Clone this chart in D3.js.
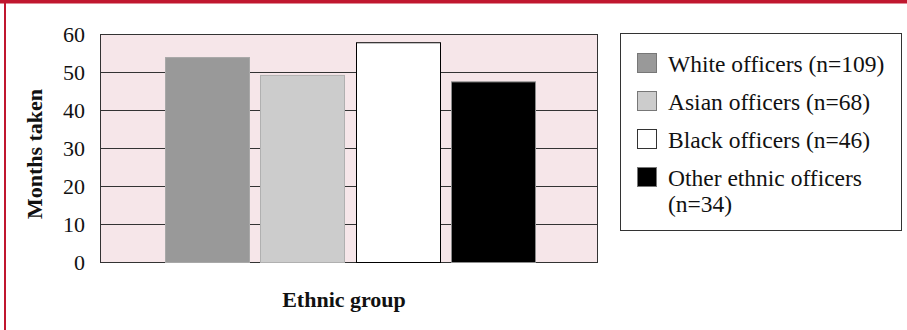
<!DOCTYPE html>
<html>
<head>
<meta charset="utf-8">
<script src="https://cdn.jsdelivr.net/npm/d3@7"></script>
<style>
  html, body { margin: 0; padding: 0; background: #fff; }
  svg { display: block; }
  text { font-family: "Liberation Serif", "DejaVu Serif", serif; fill: #111; }
</style>
</head>
<body>
<div id="chart"></div>
<script>
// Months taken to complete, by ethnic group
const groups = ["White officers", "Asian officers", "Black officers", "Other ethnic officers"];
const sampleSizes = [109, 68, 46, 34];
const monthsTaken = [53.8, 49.1, 57.7, 47.4];
const yTicks = [0, 10, 20, 30, 40, 50, 60];
const fills = ["#999999", "#cccccc", "#ffffff", "#000000"];
const strokes = ["#a8a8a8", "#b0b0b0", "#000000", "#8c8c8c"];

const W = 907, H = 330;
const plot = { left: 100, right: 598, top: 34, bottom: 262 };

const svg = d3.select("#chart").append("svg")
  .attr("width", W).attr("height", H);

// frame accents
svg.append("rect").attr("x", 0).attr("y", 0).attr("width", W).attr("height", 3.5).attr("fill", "#c0172f");
svg.append("rect").attr("x", 4).attr("y", 0).attr("width", 2).attr("height", H).attr("fill", "#c0172f");

const x = d3.scaleBand()
  .domain(groups)
  .range([plot.left + 2, plot.right])
  .paddingInner(0.12)
  .paddingOuter(0.66);

const y = d3.scaleLinear()
  .domain([0, 60])
  .range([plot.bottom, plot.top]);

// plot background
svg.append("rect")
  .attr("x", plot.left).attr("y", plot.top)
  .attr("width", plot.right - plot.left).attr("height", plot.bottom - plot.top)
  .attr("fill", "#f6e6e9");

// gridlines
svg.append("g")
  .selectAll("line")
  .data(yTicks)
  .join("line")
  .attr("x1", plot.left).attr("x2", plot.right)
  .attr("y1", d => Math.round(y(d)) + 0.5).attr("y2", d => Math.round(y(d)) + 0.5)
  .attr("stroke", "#333").attr("stroke-width", 1);

// plot border
svg.append("rect")
  .attr("x", plot.left + 0.5).attr("y", plot.top + 0.5)
  .attr("width", plot.right - plot.left - 1).attr("height", plot.bottom - plot.top)
  .attr("fill", "none").attr("stroke", "#333").attr("stroke-width", 1);

// bars
svg.append("g")
  .selectAll("rect")
  .data(groups)
  .join("rect")
  .attr("x", d => Math.round(x(d)) + 0.5)
  .attr("y", (d, i) => y(monthsTaken[i]))
  .attr("width", Math.round(x.bandwidth()))
  .attr("height", (d, i) => y(0) - y(monthsTaken[i]) + 0.5)
  .attr("fill", (d, i) => fills[i])
  .attr("stroke", (d, i) => strokes[i])
  .attr("stroke-width", 1);

// y axis labels
const yAxis = d3.axisLeft(y).tickValues(yTicks).tickSize(0).tickPadding(15);
const gy = svg.append("g").attr("transform", `translate(${plot.left},0)`).call(yAxis);
gy.attr("font-family", null).attr("font-size", null);
gy.select(".domain").remove();
gy.selectAll("text")
  .style("font-family", "'Liberation Serif', 'DejaVu Serif', serif")
  .style("font-size", "22px")
  .style("fill", "#111");

// axis titles
svg.append("text")
  .attr("transform", "translate(42,154) rotate(-90)")
  .attr("text-anchor", "middle")
  .style("font-size", "22px").style("font-weight", "bold")
  .text("Months taken");

svg.append("text")
  .attr("x", 344).attr("y", 307)
  .attr("text-anchor", "middle")
  .style("font-size", "22px").style("font-weight", "bold")
  .text("Ethnic group");

// legend
const legend = svg.append("g");
legend.append("rect")
  .attr("x", 620.5).attr("y", 33.5)
  .attr("width", 281).attr("height", 197)
  .attr("fill", "#fff").attr("stroke", "#333").attr("stroke-width", 1);

const legendLines = [
  ["White officers (n=109)"],
  ["Asian officers (n=68)"],
  ["Black officers (n=46)"],
  ["Other ethnic officers", "(n=34)"]
];

const rows = legend.selectAll("g.row")
  .data(groups)
  .join("g")
  .attr("class", "row")
  .attr("transform", (d, i) => `translate(0,${72 + i * 38})`);

rows.append("rect")
  .attr("x", 637.5).attr("y", -18.5)
  .attr("width", 19).attr("height", 19)
  .attr("fill", (d, i) => fills[i])
  .attr("stroke", (d, i) => i === 2 ? "#333" : "#777")
  .attr("stroke-width", 1);

rows.append("text")
  .attr("x", 668).attr("y", 0)
  .style("font-size", "23.5px")
  .selectAll("tspan")
  .data((d, i) => legendLines[i])
  .join("tspan")
  .attr("x", 668)
  .attr("dy", (d, j) => j === 0 ? 0 : 26)
  .text(d => d);
</script>
</body>
</html>
